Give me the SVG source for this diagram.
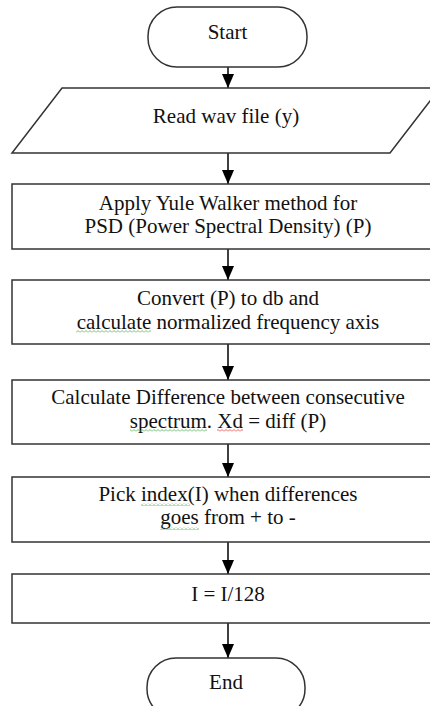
<svg xmlns="http://www.w3.org/2000/svg" width="430" height="706" viewBox="0 0 430 706">
<style>
.shape{fill:#fff;stroke:#333;stroke-width:1.5}
.txt{font-family:"Liberation Serif","Times New Roman",serif;font-size:21px;fill:#111;text-anchor:middle}
.conn{stroke:#000;stroke-width:1.5;fill:none;marker-end:url(#ah)}
</style>
<defs>
<marker id="ah" markerWidth="14" markerHeight="12" refX="14" refY="6" orient="auto" markerUnits="userSpaceOnUse">
<path d="M0,0 L14,6 L0,12 Z" fill="#000"/>
</marker>
<pattern id="sqg" width="4" height="3" patternUnits="userSpaceOnUse">
<path d="M0,2.5 L2,0.5 L4,2.5" fill="none" stroke="#4caf50" stroke-width="0.8"/>
</pattern>
<pattern id="sqr" width="4" height="3" patternUnits="userSpaceOnUse">
<path d="M0,2.5 L2,0.5 L4,2.5" fill="none" stroke="#e53935" stroke-width="0.8"/>
</pattern>
</defs>
<rect width="430" height="706" fill="#fff"/>
<g id="connectors">
<line class="conn" x1="228" y1="67" x2="228" y2="88"/>
<line class="conn" x1="228" y1="153" x2="228" y2="184"/>
<line class="conn" x1="228" y1="249" x2="228" y2="280"/>
<line class="conn" x1="228" y1="344" x2="228" y2="380"/>
<line class="conn" x1="228" y1="444" x2="228" y2="477"/>
<line class="conn" x1="228" y1="542" x2="228" y2="574"/>
<line class="conn" x1="228" y1="623" x2="228" y2="658"/>
</g>
<g id="start">
<rect class="shape" x="148" y="7" width="159" height="60" rx="29" ry="29"/>
<text class="txt" x="227.5" y="39">Start</text>
</g>
<g id="read">
<polygon class="shape" points="62,88 440,88 390,153 12,153"/>
<text class="txt" x="226" y="123">Read wav file (y)</text>
</g>
<g id="psd">
<rect class="shape" x="12" y="184" width="432" height="65"/>
<text class="txt" x="228" y="209.5">Apply Yule Walker method for</text>
<text class="txt" x="228" y="233">PSD (Power Spectral Density) (P)</text>
</g>
<g id="convert">
<rect class="shape" x="12" y="280" width="432" height="64"/>
<text class="txt" x="228" y="305">Convert (P) to db and</text>
<text class="txt" x="228" y="328.5">calculate normalized frequency axis</text>
<rect x="76" y="330" width="75" height="3" fill="url(#sqg)"/>
</g>
<g id="diff">
<rect class="shape" x="12" y="380" width="432" height="64"/>
<text class="txt" x="228" y="404">Calculate Difference between consecutive</text>
<text class="txt" x="228" y="427.5">spectrum. Xd = diff (P)</text>
<rect x="130" y="429" width="77" height="3" fill="url(#sqg)"/>
<rect x="217" y="429" width="26" height="3" fill="url(#sqr)"/>
</g>
<g id="pick">
<rect class="shape" x="12" y="477" width="432" height="65"/>
<text class="txt" x="228" y="500.5">Pick index(I) when differences</text>
<text class="txt" x="228" y="524">goes from + to -</text>
<rect x="141" y="503" width="49" height="3" fill="url(#sqg)"/>
<rect x="160" y="527" width="39" height="3" fill="url(#sqg)"/>
</g>
<g id="scale">
<rect class="shape" x="12" y="574" width="432" height="49"/>
<text class="txt" x="228" y="601">I = I/128</text>
</g>
<g id="end">
<rect class="shape" x="147" y="658" width="158" height="60" rx="29" ry="29"/>
<text class="txt" x="226" y="689">End</text>
</g>
</svg>
